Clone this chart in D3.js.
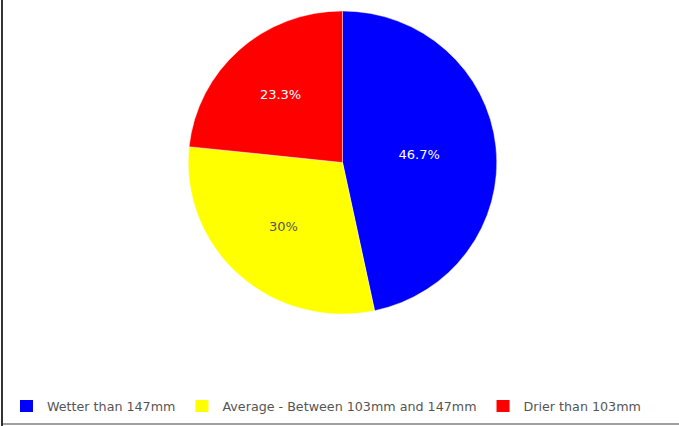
<!DOCTYPE html>
<html>
<head>
<meta charset="utf-8">
<script src="https://cdn.jsdelivr.net/npm/d3@7"></script>
<style>
  html, body { margin: 0; padding: 0; background: #fff; }
  svg { display: block; }
</style>
</head>
<body>
<svg id="chart" width="679" height="426"></svg>
<script>
// Rainfall outcome categories and how many years fell into each
const categories = ["Wetter than 147mm", "Average - Between 103mm and 147mm", "Drier than 103mm"];
const counts = [14, 9, 7];
const colors = ["#0000ff", "#ffff00", "#ff0000"];
const labelColors = ["#ffffff", "#555555", "#ffffff"];

const W = 679, H = 426;
const cx = 342.5, cy = 162.5, R = 151.5, sx = 1.018;
const font = "'DejaVu Sans', Verdana, sans-serif";

const svg = d3.select("#chart");

// frame lines
svg.append("rect").attr("x", 1).attr("y", 0).attr("width", 2).attr("height", H).attr("fill", "#333");
svg.append("rect").attr("x", 3).attr("y", 423).attr("width", W - 3).attr("height", 2).attr("fill", "#a0a0a0");

const total = d3.sum(counts);
const pie = d3.pie().sort(null).value(d => d)(counts);
const arc = d3.arc().innerRadius(0).outerRadius(R);

const g = svg.append("g").attr("transform", `translate(${cx},${cy})`);

g.append("g").attr("transform", `scale(${sx},1)`)
  .selectAll("path.slice")
  .data(pie)
  .join("path")
  .attr("class", "slice")
  .attr("d", arc)
  .attr("fill", (d, i) => colors[i])
  .attr("stroke", "#ffffff")
  .attr("stroke-width", 0.4);

// labels sit further out for narrower slices
const fmt = v => {
  const p = Math.round(v / total * 1000) / 10;
  return (Number.isInteger(p) ? p.toFixed(0) : p.toFixed(1)) + "%";
};
g.selectAll("text.pct")
  .data(pie)
  .join("text")
  .attr("class", "pct")
  .each(function(d, i) {
    const frac = d.value / total;
    const rr = R * (0.5 + 0.43 * Math.max(0, 0.467 - frac));
    const a = (d.startAngle + d.endAngle) / 2;
    d3.select(this)
      .attr("x", Math.sin(a) * rr * sx)
      .attr("y", -Math.cos(a) * rr)
      .attr("dy", "0.35em");
  })
  .attr("text-anchor", "middle")
  .attr("font-family", font)
  .attr("font-size", 13)
  .attr("fill", (d, i) => labelColors[i])
  .text(d => fmt(d.value));

// legend row along the bottom
const legend = svg.append("g").attr("transform", "translate(20,400)");
let lx = 0;
categories.forEach((c, i) => {
  const item = legend.append("g").attr("transform", `translate(${lx},0)`);
  item.append("rect").attr("width", 13).attr("height", 12).attr("fill", colors[i]);
  const t = item.append("text")
    .attr("x", 27).attr("y", 10.5)
    .attr("font-family", font)
    .attr("font-size", 12.7)
    .attr("fill", "#555")
    .text(c);
  lx += 27 + t.node().getComputedTextLength() + 20;
});
</script>
</body>
</html>
